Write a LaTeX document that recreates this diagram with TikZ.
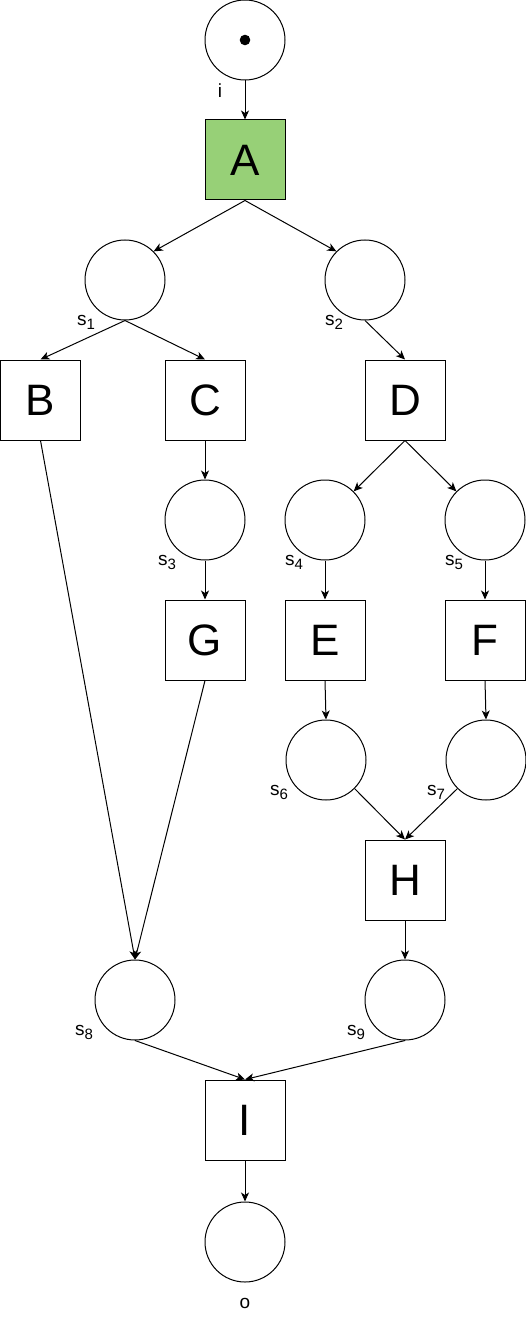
\documentclass[tikz,border=0pt]{standalone}
\usepackage{fontspec}
\setmainfont{Liberation Sans}
\usetikzlibrary{arrows.meta}
\newcommand{\slab}[1]{s\raisebox{-4.5pt}{\fontsize{15}{15}\selectfont #1}}
\definecolor{agreen}{HTML}{97D077}
\begin{document}
\begin{tikzpicture}[x=1pt,y=-1pt,
  place/.style={circle,draw,line width=1pt,minimum size=80pt,inner sep=0pt},
  trans/.style={rectangle,draw,line width=1pt,minimum size=80pt,inner sep=0pt,font=\fontsize{44}{44}\selectfont},
  arc/.style={line width=1pt,-{Stealth[length=9pt,width=8pt,inset=2.5pt]}},
  lab/.style={anchor=base west,inner sep=0pt,font=\fontsize{19}{19}\selectfont}]
\useasboundingbox (0,0) rectangle (526,1321);
% places
\node[place] (pi) at (245,40) {};
\fill (pi.center) circle[radius=5.3pt];
\node[place] (s1) at (125,280) {};
\node[place] (s2) at (365,280) {};
\node[place] (s3) at (205,520) {};
\node[place] (s4) at (325,520) {};
\node[place] (s5) at (485,520) {};
\node[place] (s6) at (326,760) {};
\node[place] (s7) at (486,760) {};
\node[place] (s8) at (135,1000) {};
\node[place] (s9) at (405,1000) {};
\node[place] (po) at (245,1242) {};
% transitions
\node[trans,fill=agreen] (A) at (245,160) {A};
\node[trans] (B) at (40.5,400) {B};
\node[trans] (C) at (205,400) {C};
\node[trans] (D) at (405,400) {D};
\node[trans] (G) at (205,640) {G};
\node[trans] (E) at (325,640) {E};
\node[trans] (F) at (485,640) {F};
\node[trans] (H) at (405,880) {H};
\node[trans] (I) at (245,1120) {I};
% labels
\node[lab,anchor=base] (li) at (220,98) {i};
\node[lab] (l1) at (77,325) {\slab{1}};
\node[lab] (l2) at (325,325) {\slab{2}};
\node[lab] (l3) at (158,565) {\slab{3}};
\node[lab] (l4) at (285,565) {\slab{4}};
\node[lab] (l5) at (445,565) {\slab{5}};
\node[lab] (l6) at (270,795) {\slab{6}};
\node[lab] (l7) at (427,795) {\slab{7}};
\node[lab] (l8) at (75,1035) {\slab{8}};
\node[lab] (l9) at (347,1035) {\slab{9}};
\node[lab,anchor=base] (lo) at (245,1308) {o};
% arcs
\draw[arc] (pi.south) -- (A.north);
\draw[arc] (A.south) -- (s1.45);
\draw[arc] (A.south) -- (s2.135);
\draw[arc] (s1.south) -- (B.north);
\draw[arc] (s1.south) -- (C.north);
\draw[arc] (s2.south) -- (D.north);
\draw[arc] (C.south) -- (s3.north);
\draw[arc] (D.south) -- (s4.45);
\draw[arc] (D.south) -- (s5.135);
\draw[arc] (s3.south) -- (G.north);
\draw[arc] (s4.south) -- (E.north);
\draw[arc] (s5.south) -- (F.north);
\draw[arc] (E.south) -- (s6.north);
\draw[arc] (F.south) -- (s7.north);
\draw[arc] (s6.-45) -- (H.north);
\draw[arc] (s7.-135) -- (H.north);
\draw[arc] (H.south) -- (s9.north);
\draw[arc] (B.south) -- (s8.north);
\draw[arc] (G.south) -- (s8.north);
\draw[arc] (s8.south) -- (I.north);
\draw[arc] (s9.south) -- (I.north);
\draw[arc] (I.south) -- (po.north);
\end{tikzpicture}
\end{document}
